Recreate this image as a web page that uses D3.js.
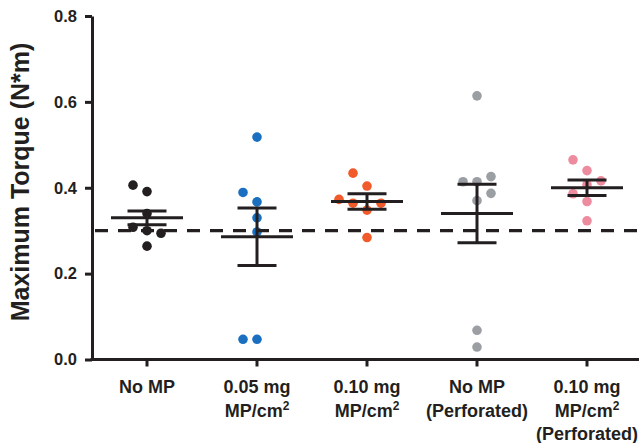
<!DOCTYPE html>
<html>
<head>
<meta charset="utf-8">
<script src="https://cdn.jsdelivr.net/npm/d3@7"></script>
<style>
  body { margin: 0; background: #fff; }
  text { font-family: "Liberation Sans", Arial, sans-serif; font-weight: bold; fill: #231f20; }
</style>
</head>
<body>
<svg id="chart"></svg>
<script>
// groups on the x axis, each label split in lines ("^2" = superscript)
const groups = ['noMP', 'mp005', 'mp010', 'noMPPerf', 'mp010Perf'];
const groupLabels = [
  ['No MP'],
  ['0.05 mg', 'MP/cm^2'],
  ['0.10 mg', 'MP/cm^2'],
  ['No MP', '(Perforated)'],
  ['0.10 mg', 'MP/cm^2', '(Perforated)']
];
const groupColors = ['#231f20', '#1b6fc0', '#f15a2b', '#9b9ea3', '#ee8c9f'];

// individual measurements (N*m)
const noMP = [0.391, 0.406, 0.340, 0.300, 0.308, 0.294, 0.264];
const mp005 = [0.518, 0.367, 0.389, 0.330, 0.297, 0.047, 0.047];
const mp010 = [0.404, 0.348, 0.364, 0.364, 0.373, 0.434, 0.284];
const noMPPerf = [0.414, 0.414, 0.426, 0.370, 0.387, 0.614, 0.068, 0.029];
const mp010Perf = [0.440, 0.465, 0.407, 0.386, 0.416, 0.368, 0.323];

// mean and SEM as drawn
const means = [0.330, 0.286, 0.368, 0.340, 0.400];
const sems = [0.016, 0.067, 0.018, 0.068, 0.018];

const threshold = 0.3;
const yTicks = [0.0, 0.2, 0.4, 0.6, 0.8];
const yTitle = 'Maximum Torque (N*m)';

const values = [noMP, mp005, mp010, noMPPerf, mp010Perf];

const width = 639, height = 443;
const margin = { left: 92, top: 16, bottom: 84 };

const svg = d3.select('#chart').attr('width', width).attr('height', height);

const x = d3.scaleBand().domain(groups).range([margin.left, margin.left + 550]);
const y = d3.scaleLinear().domain([0, 0.8]).range([height - margin.bottom + 0.5, margin.top]);

const ink = '#231f20';
const r = 4.8, slot = 14, minGap = 13.5;

/** simple column scatter: try centre, then left, right, further out */
function swarm(vals) {
  const placed = [];
  const order = [0, -1, 1, -2, 2, -3, 3];
  vals.forEach(v => {
    const py = y(v);
    const k = order.find(o => !placed.some(p => p.k === o && Math.abs(p.py - py) < minGap));
    placed.push({ v, py, k });
  });
  return placed;
}

/** dots */
groups.forEach((g, i) => {
  const cx = x(g) + x.bandwidth() / 2;
  svg.append('g')
    .selectAll('circle')
    .data(swarm(values[i]))
    .join('circle')
    .attr('cx', d => cx + d.k * slot)
    .attr('cy', d => d.py)
    .attr('r', r)
    .attr('fill', groupColors[i]);
});

/** dashed reference line */
svg.append('line')
  .attr('x1', margin.left + 3).attr('x2', width)
  .attr('y1', y(threshold)).attr('y2', y(threshold))
  .attr('stroke', ink).attr('stroke-width', 3.2)
  .attr('stroke-dasharray', '13,10');

/** mean and SEM bars */
const bars = svg.append('g').attr('stroke', ink).attr('stroke-width', 3);
groups.forEach((g, i) => {
  const cx = x(g) + x.bandwidth() / 2;
  const hi = y(means[i] + sems[i]), lo = y(means[i] - sems[i]), m = y(means[i]);
  bars.append('line').attr('x1', cx - 36).attr('x2', cx + 36).attr('y1', m).attr('y2', m);
  bars.append('line').attr('x1', cx - 19.5).attr('x2', cx + 19.5).attr('y1', hi).attr('y2', hi);
  bars.append('line').attr('x1', cx - 19.5).attr('x2', cx + 19.5).attr('y1', lo).attr('y2', lo);
  bars.append('line').attr('x1', cx).attr('x2', cx).attr('y1', hi).attr('y2', lo);
});

/** y axis */
const yAxis = svg.append('g')
  .attr('transform', `translate(${margin.left},0)`)
  .call(d3.axisLeft(y).tickValues(yTicks).tickFormat(d3.format('.1f')).tickSize(7).tickSizeOuter(0).tickPadding(8));
yAxis.select('.domain').attr('stroke', ink).attr('stroke-width', 3);
yAxis.selectAll('.tick line').attr('stroke', ink).attr('stroke-width', 3);
yAxis.selectAll('.tick text').attr('font-size', 16.5).attr('fill', ink)
  .attr('font-family', '"Liberation Sans", Arial, sans-serif').attr('font-weight', 'bold');

/** x axis */
const xAxis = svg.append('g')
  .attr('transform', `translate(0,${y(0)})`)
  .call(d3.axisBottom(x).tickSize(7).tickSizeOuter(0).tickFormat(''));
xAxis.select('.domain').attr('d', `M${margin.left - 1.5},0H${width}`)
  .attr('stroke', ink).attr('stroke-width', 3);
xAxis.selectAll('.tick line').attr('stroke', ink).attr('stroke-width', 3);

/** category labels */
groups.forEach((g, i) => {
  const cx = x(g) + x.bandwidth() / 2;
  const t = svg.append('text').attr('text-anchor', 'middle').attr('font-size', 18);
  groupLabels[i].forEach((line, j) => {
    const parts = line.split('^');
    t.append('tspan').attr('x', cx).attr('y', 393 + j * 23.5).text(parts[0]);
    if (parts[1]) {
      t.append('tspan').attr('font-size', 12).attr('dy', -7).text(parts[1]);
    }
  });
});

/** y title */
svg.append('text')
  .attr('transform', `translate(29,182) rotate(-90)`)
  .attr('text-anchor', 'middle')
  .attr('font-size', 25)
  .text(yTitle);
</script>
</body>
</html>
